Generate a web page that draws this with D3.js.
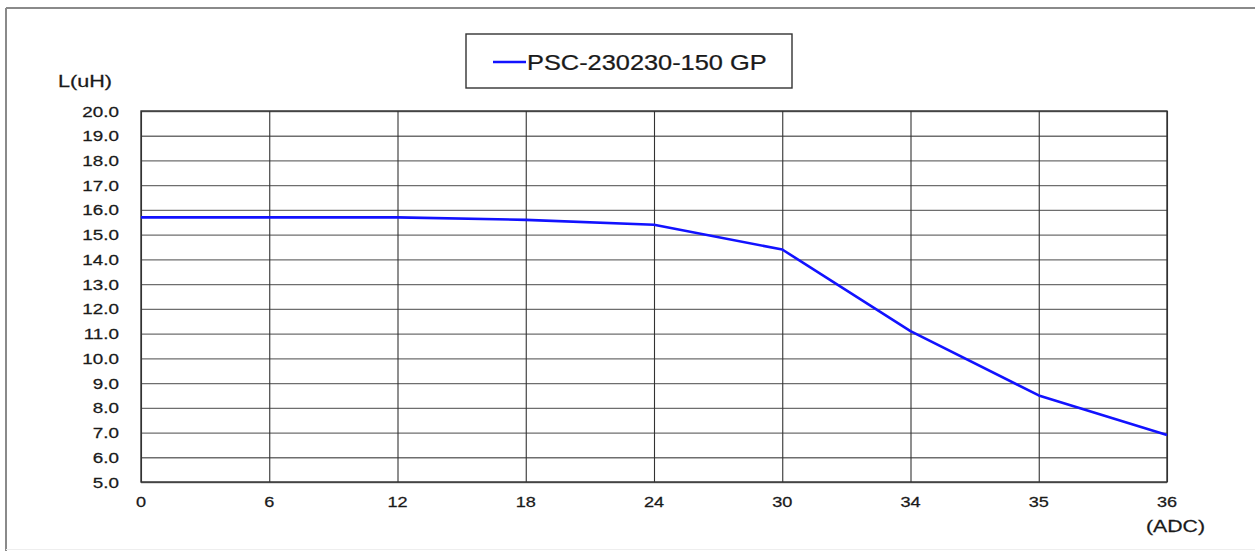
<!DOCTYPE html>
<html><head><meta charset="utf-8">
<script src="https://cdn.jsdelivr.net/npm/d3@7"></script>
<style>html,body{margin:0;padding:0;background:#fff;}svg{display:block;}</style>
</head><body>
<svg id="c" width="1255" height="551"></svg>
<script>
const categories = ["0","6","12","18","24","30","34","35","36"];
const values = [15.7, 15.7, 15.7, 15.6, 15.4, 14.4, 11.1, 8.5, 6.9];
const yTicks = [5,6,7,8,9,10,11,12,13,14,15,16,17,18,19,20];
const seriesName = "PSC-230230-150 GP";
const yTitle = "L(uH)";
const xTitle = "(ADC)";

const svg = d3.select("#c");
const font = "'Liberation Sans', Arial, sans-serif";
const L = 141, R = 1167, T = 111, B = 482;

// outer frame (top & left)
svg.append("line").attr("x1",6).attr("x2",1255).attr("y1",8).attr("y2",8).attr("stroke","#8a8a8a").attr("stroke-width",2);
svg.append("line").attr("x1",6).attr("x2",6).attr("y1",8).attr("y2",551).attr("stroke","#8a8a8a").attr("stroke-width",2);
svg.append("line").attr("x1",6).attr("x2",1255).attr("y1",549.5).attr("y2",549.5).attr("stroke","#eeeeee").attr("stroke-width",1);

const x = d3.scalePoint().domain(categories).range([L, R]);
const y = d3.scaleLinear().domain([5, 20]).range([B, T]);

function stext(g, tx, ty, str, size, sx, anchor) {
  const gg = g.append("g").attr("transform", `translate(${tx},${ty}) scale(${sx},1)`);
  return gg.append("text").attr("x",0).attr("y",0).attr("text-anchor",anchor)
    .attr("font-family",font).attr("font-size",size).attr("fill","#1a1a1a")
    .attr("stroke","#1a1a1a").attr("stroke-width",0.25).text(str);
}

// horizontal grid
const gy = svg.append("g").attr("transform",`translate(${L},0)`)
  .call(d3.axisLeft(y).tickValues(yTicks).tickSize(-(R-L)).tickFormat(""));
gy.select(".domain").remove();
gy.selectAll(".tick line").attr("stroke","#6e6e6e").attr("stroke-width",1.3);

// vertical grid
const gx = svg.append("g").attr("transform",`translate(0,${B})`)
  .call(d3.axisBottom(x).tickSize(-(B-T)).tickFormat(""));
gx.select(".domain").remove();
gx.selectAll(".tick line").attr("stroke","#333").attr("stroke-width",1.1);

// frame of plot
svg.append("rect").attr("x",L).attr("y",T).attr("width",R-L).attr("height",B-T)
  .attr("fill","none").attr("stroke","#333").attr("stroke-width",1.4);

// y labels
const yl = svg.append("g");
yTicks.forEach(v => stext(yl, 119, y(v)+5.5, v.toFixed(1), 14.5, 1.3, "end"));
// x labels
const xl = svg.append("g");
categories.forEach(c => stext(xl, x(c), 507, c, 14.5, 1.25, "middle"));

stext(svg, 58, 87, yTitle, 16, 1.35, "start");
stext(svg, 1205, 532, xTitle, 17, 1.25, "end");

// line
const line = d3.line().x((d,i)=>x(categories[i])).y(d=>y(d));
svg.append("path").datum(values).attr("d",line).attr("fill","none")
  .attr("stroke","#1212ff").attr("stroke-width",2.6).attr("stroke-linejoin","round");

// legend
svg.append("rect").attr("x",466).attr("y",34).attr("width",326).attr("height",54)
  .attr("fill","#fff").attr("stroke","#333").attr("stroke-width",1.4);
svg.append("line").attr("x1",493).attr("x2",526).attr("y1",62).attr("y2",62)
  .attr("stroke","#1212ff").attr("stroke-width",2.6);
stext(svg, 527, 70, seriesName, 21.5, 1.18, "start");
</script>
</body></html>
